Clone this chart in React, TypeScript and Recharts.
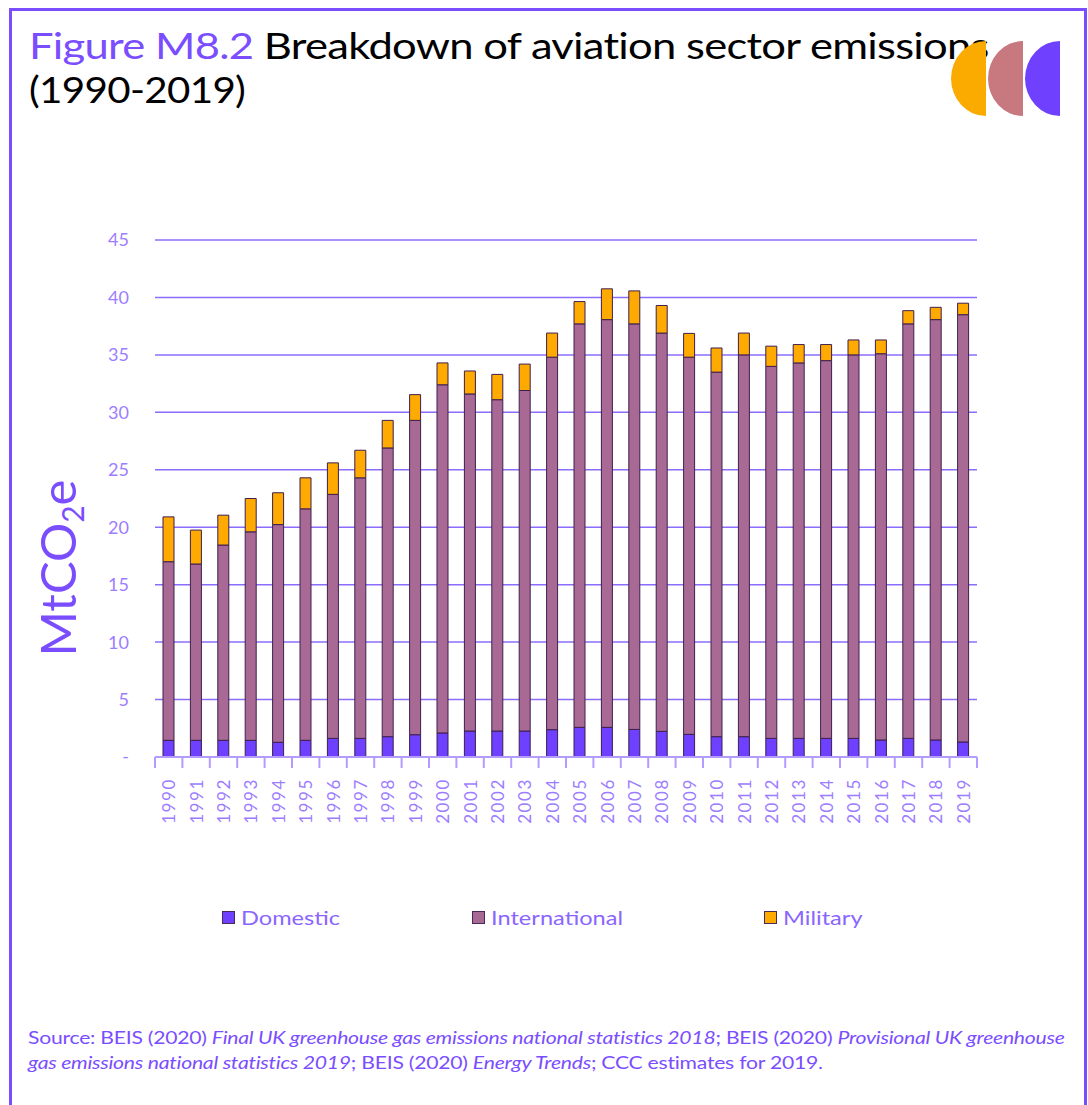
import React from 'react';
import { BarChart, Bar, XAxis, YAxis, CartesianGrid } from 'recharts';

const years = [
  '1990', '1991', '1992', '1993', '1994', '1995', '1996', '1997', '1998', '1999',
  '2000', '2001', '2002', '2003', '2004', '2005', '2006', '2007', '2008', '2009',
  '2010', '2011', '2012', '2013', '2014', '2015', '2016', '2017', '2018', '2019',
];
const domestic = [
  1.45, 1.45, 1.45, 1.45, 1.28, 1.45, 1.62, 1.62, 1.77, 1.94,
  2.09, 2.26, 2.26, 2.26, 2.38, 2.58, 2.58, 2.4, 2.23, 1.97,
  1.77, 1.77, 1.62, 1.62, 1.62, 1.62, 1.48, 1.62, 1.48, 1.31,
];
const international = [
  15.55, 15.35, 17.0, 18.15, 18.95, 20.15, 21.24, 22.68, 25.13, 27.36,
  30.31, 29.34, 28.84, 29.64, 32.42, 35.12, 35.49, 35.3, 34.67, 32.83,
  31.73, 33.23, 32.38, 32.68, 32.88, 33.38, 33.62, 36.08, 36.59, 37.19,
];
const military = [
  3.9, 2.95, 2.6, 2.9, 2.77, 2.7, 2.74, 2.4, 2.4, 2.24,
  1.9, 2.0, 2.2, 2.3, 2.1, 1.94, 2.68, 2.87, 2.4, 2.07,
  2.1, 1.9, 1.76, 1.6, 1.4, 1.3, 1.2, 1.15, 1.07, 1.0,
];
const yTicks = [0, 5, 10, 15, 20, 25, 30, 35, 40, 45];

const series = [
  { key: 'domestic', name: 'Domestic', color: '#6e40ff' },
  { key: 'international', name: 'International', color: '#a86a94' },
  { key: 'military', name: 'Military', color: '#ffaa00' },
];

const data = years.map((year, i) => ({
  year,
  domestic: domestic[i],
  international: international[i],
  military: military[i],
}));

const FONT = 'Lato, "Open Sans", sans-serif';
const PURPLE = '#7a4dff';
const TICK = '#9d7dff';

// stretch html text sideways, the original face is wider than Lato
const wide = (k: number): React.CSSProperties => ({
  display: 'inline-block',
  transform: `scaleX(${k})`,
  transformOrigin: 'left center',
  whiteSpace: 'nowrap',
});

// year labels read bottom-to-top; tick marks sit on the category boundaries
function YearTick(props: any) {
  const { x, y, payload, index, visibleTicksCount, width } = props;
  const band = width / visibleTicksCount;
  const left = x - band / 2;
  return (
    <g>
      <line x1={left} y1={y - 8} x2={left} y2={y + 3} stroke="#b49cff" strokeWidth={2} />
      {index === visibleTicksCount - 1 && (
        <line x1={x + band / 2} y1={y - 8} x2={x + band / 2} y2={y + 3} stroke="#b49cff" strokeWidth={2} />
      )}
      <text
        x={x}
        y={y + 13}
        transform={`rotate(-90 ${x} ${y + 13})`}
        textAnchor="end"
        dominantBaseline="central"
        fill={TICK}
        fontSize={17}
        fontFamily={FONT}
        letterSpacing={1.6}
      >
        {payload.value}
      </text>
    </g>
  );
}

function Logo() {
  const half = (xr: number, color: string) => (
    <path d={`M ${xr} 41 A 35 37.5 0 0 0 ${xr} 116 Z`} fill={color} />
  );
  return (
    <svg width={130} height={130} style={{ position: 'absolute', left: 940, top: 0 }} viewBox="940 0 130 130">
      {half(1060, '#7040ff')}
      {half(1023, '#c8787f')}
      {half(986, '#fbaa00')}
    </svg>
  );
}

export default function App() {
  return (
    <div style={{ position: 'absolute', left: 0, top: 0, width: 1088, height: 1105, background: '#fff', overflow: 'hidden', fontFamily: FONT }}>
      <div style={{ position: 'absolute', left: 9, top: 8, width: 1072, height: 1120, border: `3px solid ${PURPLE}` }} />
      <div style={{ position: 'absolute', left: 29, top: 27, fontSize: 36, lineHeight: '36px', height: 36, color: '#000', letterSpacing: -0.6 }}>
        <span style={wide(1.21)}>
          <span style={{ color: PURPLE }}>Figure M8.2</span> Breakdown of aviation sector emissions
        </span>
      </div>
      <div style={{ position: 'absolute', left: 29, top: 71, fontSize: 36, lineHeight: '36px', height: 36, color: '#000', letterSpacing: -0.6 }}>
        <span style={wide(1.12)}>(1990-2019)</span>
      </div>
      <Logo />
      <div style={{ position: 'absolute', left: 0, top: 0 }}>
        <BarChart width={1088} height={860} data={data} margin={{ top: 240, right: 111, left: 0, bottom: 0 }} barSize={11}>
          <CartesianGrid vertical={false} stroke="#8c6cff" strokeWidth={1.5} />
          <XAxis
            dataKey="year"
            height={103}
            interval={0}
            tickLine={false}
            axisLine={{ stroke: '#b49cff', strokeWidth: 2 }}
            tick={<YearTick />}
          />
          <YAxis
            width={155}
            domain={[0, 45]}
            ticks={yTicks}
            interval={0}
            axisLine={false}
            tickLine={false}
            tickSize={0}
            tickMargin={26}
            tickFormatter={(v: number) => (v === 0 ? '-' : String(v))}
            tick={{ fill: TICK, fontSize: 18, fontFamily: FONT }}
            label={() => (
              <text
                x={76}
                y={568}
                transform="rotate(-90 76 568)"
                textAnchor="middle"
                fill={PURPLE}
                fontSize={49}
                fontFamily={FONT}
              >
                MtCO<tspan fontSize={30} dy={8}>2</tspan><tspan dy={-8}>e</tspan>
              </text>
            )}
          />
          {series.map((s) => (
            <Bar
              key={s.key}
              dataKey={s.key}
              name={s.name}
              stackId="a"
              fill={s.color}
              stroke="#3d1f4f"
              strokeWidth={1}
              isAnimationActive={false}
            />
          ))}
        </BarChart>
      </div>
      <div style={{ position: 'absolute', top: 905, left: 0, width: 1088, height: 30, fontSize: 20, color: '#8a66ff' }}>
        {series.map((s, i) => (
          <div key={s.key} style={{ position: 'absolute', left: [222, 472, 764][i], top: 0, display: 'flex', alignItems: 'center' }}>
            <span style={{ width: 11, height: 11, background: s.color, border: '1.5px solid #4a2a5a', marginRight: 6, display: 'inline-block' }} />
            <span style={wide(1.18)}>{s.name}</span>
          </div>
        ))}
      </div>
      <div style={{ position: 'absolute', left: 28, top: 1025, fontSize: 17, lineHeight: '25px', color: PURPLE, letterSpacing: -0.2 }}>
        <div style={{ height: 25 }}>
          <span style={wide(1.245)}>
            Source: BEIS (2020) <i>Final UK greenhouse gas emissions national statistics 2018</i>; BEIS (2020) <i>Provisional UK greenhouse</i>
          </span>
        </div>
        <div style={{ height: 25 }}>
          <span style={wide(1.245)}>
            <i>gas emissions national statistics 2019</i>; BEIS (2020) <i>Energy Trends</i>; CCC estimates for 2019.
          </span>
        </div>
      </div>
    </div>
  );
}
